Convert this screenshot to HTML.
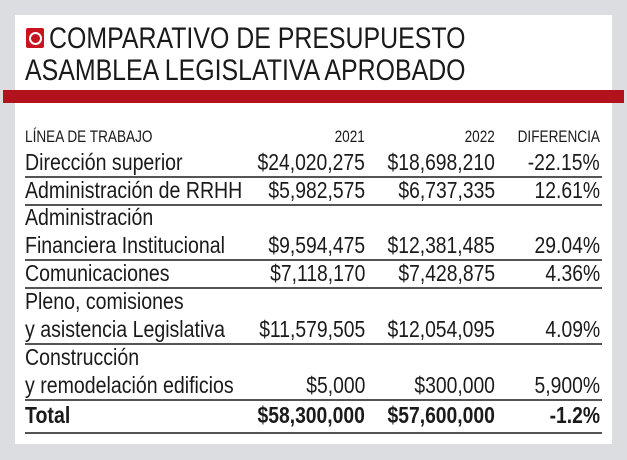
<!DOCTYPE html>
<html><head><style>
body{margin:0;width:627px;height:460px;background:#dcdde0;position:relative;overflow:hidden;font-family:"Liberation Sans",sans-serif;color:#1a1a1a}
.panel{position:absolute;left:15px;top:15px;width:597px;height:429px;background:#fff}
.red{position:absolute;left:3px;top:90px;width:621px;height:13px;background:#b1121b}
.t{position:absolute;white-space:nowrap;line-height:1}
.l{transform-origin:left top}
.r{transform-origin:right top;text-align:right}
.ln{position:absolute;left:25px;width:577px;height:1.5px;background:#555}
</style></head><body>
<div class="panel"></div>
<div class="red"></div>
<div style="position:absolute;left:26px;top:28px;width:18px;height:20px;background:#c8141e;border-radius:2px"></div>
<div style="position:absolute;left:29px;top:32px;width:9px;height:9px;border:2.5px solid #fff;border-radius:50%"></div>
<div class="t l" style="left:49px;top:24px;font-size:30px;transform:scaleX(0.83)">COMPARATIVO DE PRESUPUESTO</div>
<div class="t l" style="left:25px;top:56px;font-size:30px;transform:scaleX(0.83)">ASAMBLEA LEGISLATIVA APROBADO</div>

<div class="t l" style="left:25px;top:128px;font-size:17px;transform:scaleX(0.8)">LÍNEA DE TRABAJO</div>
<div class="t r" style="right:262px;top:128px;font-size:17px;transform:scaleX(0.8)">2021</div>
<div class="t r" style="right:132px;top:128px;font-size:17px;transform:scaleX(0.8)">2022</div>
<div class="t r" style="right:27px;top:128px;font-size:17px;transform:scaleX(0.8)">DIFERENCIA</div>

<div id="rows"></div>
<script>
var rows=[
[151,"Dirección superior","$24,020,275","$18,698,210","-22.15%",176],
[179,"Administración de RRHH","$5,982,575","$6,737,335","12.61%",204],
[206,"Administración","","","",0],
[234,"Financiera Institucional","$9,594,475","$12,381,485","29.04%",259],
[262,"Comunicaciones","$7,118,170","$7,428,875","4.36%",287],
[290,"Pleno, comisiones","","","",0],
[318,"y asistencia Legislativa","$11,579,505","$12,054,095","4.09%",343],
[346,"Construcción","","","",0],
[374,"y remodelación edificios","$5,000","$300,000","5,900%",399],
[404,"Total","$58,300,000","$57,600,000","-1.2%",432]];
var h="";
rows.forEach(function(r,i){var b=i==9?"font-weight:bold;":"";
h+='<div class="t l" style="left:25px;top:'+r[0]+'px;font-size:23px;transform:scaleX(0.85);'+b+'">'+r[1]+'</div>';
h+='<div class="t r" style="right:262px;top:'+r[0]+'px;font-size:23px;transform:scaleX(0.84);'+b+'">'+r[2]+'</div>';
h+='<div class="t r" style="right:132px;top:'+r[0]+'px;font-size:23px;transform:scaleX(0.84);'+b+'">'+r[3]+'</div>';
h+='<div class="t r" style="right:27px;top:'+r[0]+'px;font-size:23px;transform:scaleX(0.84);'+b+'">'+r[4]+'</div>';
if(r[5])h+='<div class="ln" style="top:'+r[5]+'px;'+(i==9?'height:2px':'')+'"></div>';});
document.getElementById("rows").innerHTML=h;
</script>
</body></html>
